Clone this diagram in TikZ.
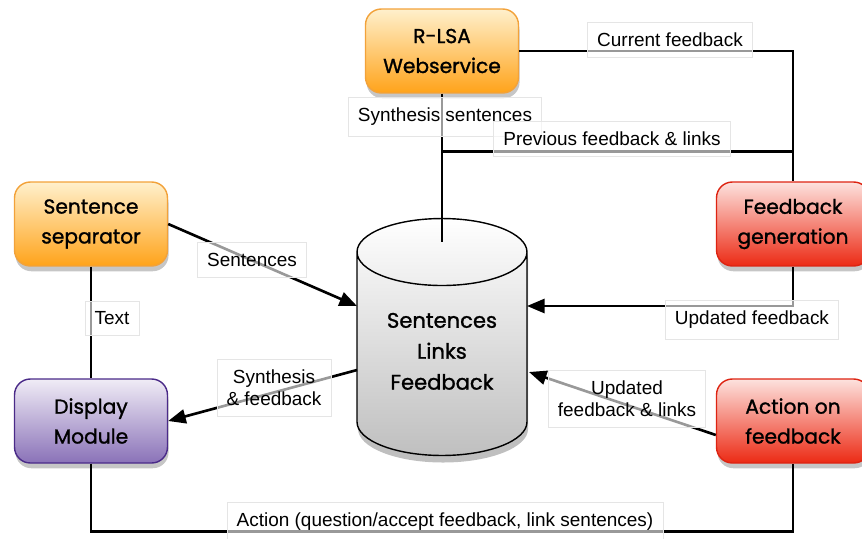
\documentclass[tikz,border=0pt]{standalone}
\usepackage{fontspec}
\setmainfont{Liberation Sans}
\newfontfamily\boxfont{Poppins}[FakeBold=1.2]
\usetikzlibrary{calc, shapes.geometric, shadows, arrows.meta, positioning}

\definecolor{orgtop}{HTML}{FFF0CC}
\definecolor{orgbot}{HTML}{FFA31A}
\definecolor{orgline}{HTML}{F2A23A}
\definecolor{redtop}{HTML}{FDE2DE}
\definecolor{redbot}{HTML}{EC2A14}
\definecolor{redline}{HTML}{DD2412}
\definecolor{purtop}{HTML}{F0ECF6}
\definecolor{purbot}{HTML}{8A72B8}
\definecolor{purline}{HTML}{4A2A88}

\tikzset{
  box/.style={rounded corners=9pt, line width=0.8pt, minimum width=3.06cm, minimum height=1.68cm,
    align=center, font=\boxfont\fontsize{11.5}{17}\selectfont,
    drop shadow={shadow xshift=0.6pt, shadow yshift=-3pt, opacity=0.45}},
  orgbox/.style={box, draw=orgline, top color=orgtop, bottom color=orgbot},
  redbox/.style={box, draw=redline, top color=redtop, bottom color=redbot},
  purbox/.style={box, draw=purline, top color=purtop, bottom color=purbot},
  dbase/.style={cylinder, shape border rotate=90, aspect=0.55, draw, line width=0.8pt,
    minimum width=3.4cm, minimum height=4.74cm, top color=white, bottom color=black!25,
    align=center, font=\boxfont\fontsize{12}{17.6}\selectfont,
    drop shadow={shadow xshift=0.6pt, shadow yshift=-4pt, opacity=0.5}},
  lbl/.style={fill=white, fill opacity=0.6, text opacity=1, draw=black!10, line width=0.3pt,
    inner xsep=5.5pt, inner ysep=6pt, align=center, font=\fontsize{10.8}{12.5}\selectfont},
  conn/.style={line width=1.5pt},
  arr/.style={conn, -{Triangle[length=10pt, width=8pt]}}
}

\begin{document}
\begin{tikzpicture}[x=0.02cm, y=-0.02cm]
  \useasboundingbox (0, 0) rectangle (862, 538);

  % ブロック
  \node[orgbox] (rlsa) at (442, 51) {R-LSA\\Webservice};
  \node[orgbox] (sep) at (91, 224) {Sentence\\separator};
  \node[purbox] (disp) at (91, 421) {Display\\Module};
  \node[redbox] (fbgen) at (793, 224) {Feedback\\generation};
  \node[redbox] (action) at (793, 421) {Action on\\feedback};
  \node[dbase, anchor=shape center] (db) at (442, 337)
    {Sentences\\Links\\Feedback\\[-7.4pt]\mbox{}};

  % 接続点
  \coordinate (dbc) at (db.shape center);
  \coordinate (j1) at ($(rlsa.south)+(0, 58)$);
  \coordinate (dbtop) at ($(dbc)+(0, -95)$);
  \coordinate (dbin1) at ($(dbc)+(-85, -31)$);
  \coordinate (dbout) at ($(dbc)+(-85, 33)$);
  \coordinate (dbin2) at ($(dbc)+(85, -31)$);
  \coordinate (dbin3) at ($(dbc)+(87, 35)$);
  \coordinate (acout) at ($(action.west)+(0, 14)$);

  % 線
  \draw [conn] (rlsa.south) -- (dbtop);
  \draw [conn] (rlsa.east) -| (fbgen.north);
  \draw [conn] (j1) -- (fbgen.north |- j1);
  \draw [arr] (fbgen.south) |- (dbin2);
  \draw [arr] (sep.east) -- (dbin1);
  \draw [conn] (sep.south) -- (disp.north);
  \draw [arr] (dbout) -- (disp.east);
  \draw [arr] (acout) -- (dbin3);
  \draw [conn] (disp.south) -- ++(0, 68) -| (action.south);

  % ラベル
  \node[lbl] (lcur) at (670, 40) {Current feedback};
  \node[lbl] (lsyn) at (445, 117) {Synthesis sentences};
  \node[lbl] (lprev) at (612, 139) {Previous feedback \& links};
  \node[lbl] (lsent) at (252, 260) {Sentences};
  \node[lbl] (ltext) at (112, 318) {Text};
  \node[lbl] (lupd) at (752, 320) {Updated feedback};
  \node[lbl] (lsynfb) at (274, 388) {Synthesis\\\& feedback};
  \node[lbl] (lupdl) at (627, 399) {Updated\\feedback \& links};
  \node[lbl] (lact) at (445, 522) {Action (question/accept feedback, link sentences)};
\end{tikzpicture}
\end{document}
